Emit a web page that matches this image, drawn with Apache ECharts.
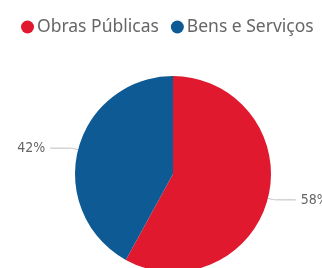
<!DOCTYPE html>
<html>
<head>
<meta charset="utf-8">
<script src="https://cdn.jsdelivr.net/npm/echarts@6/dist/echarts.min.js"></script>
<style>
  html, body { margin: 0; padding: 0; background: #fff; }
  #chart { width: 322px; height: 268px; }
</style>
</head>
<body>
<div id="chart"></div>
<script>
/* ── Data ─────────────────────────────────────────────── */
const categories = ['Obras Públicas', 'Bens e Serviços'];
const shares = [58, 42];
const colors = ['#E1192F', '#0E5A94'];

/* ── Chart ────────────────────────────────────────────── */
const chart = echarts.init(document.getElementById('chart'));

chart.setOption({
    animation: false,
    color: colors,
    legend: {
        data: categories,
        left: 21,
        top: 18,
        icon: 'circle',
        itemWidth: 13,
        itemHeight: 13,
        itemGap: 12,
        textStyle: { color: '#666', fontSize: 17.5, fontFamily: 'Noto Sans', padding: [0, 0, 0, -2] },
        padding: 0
    },
    series: [{
        type: 'pie',
        center: [173, 174],
        radius: [0, 98],
        startAngle: 90,
        clockwise: true,
        data: categories.map((c, i) => ({ name: c, value: shares[i] })),
        label: {
            show: true,
            position: 'outside',
            formatter: p => p.value + '%',
            color: '#666',
            fontSize: 14,
            fontFamily: 'DejaVu Sans Condensed',
            overflow: 'none'
        },
        labelLine: {
            show: true,
            length: 6,
            length2: 22,
            smooth: true,
            lineStyle: { color: '#bbb', width: 1 }
        },
        itemStyle: { borderWidth: 0 }
    }]
});
</script>
</body>
</html>
